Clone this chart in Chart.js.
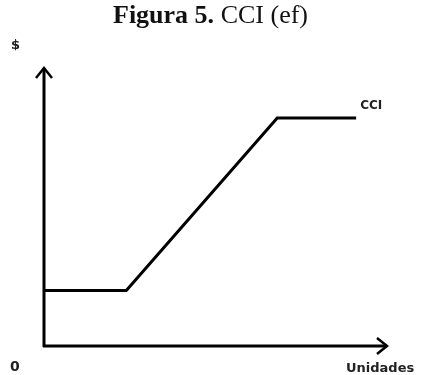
<!DOCTYPE html>
<html>
<head>
<meta charset="utf-8">
<script src="https://cdn.jsdelivr.net/npm/chart.js@4.4.0/dist/chart.umd.min.js"></script>
<style>
  html, body { margin: 0; padding: 0; background: #fff; }
  #wrap { position: relative; width: 421px; height: 375px; }
  #title {
    position: absolute; left: 0; top: 0px; width: 421px; text-align: center;
    font-family: "Liberation Serif", serif; font-size: 26px; line-height: 30px; color: #111;
  }
  #title b { font-weight: bold; }
</style>
</head>
<body>
<div id="wrap">
  <canvas id="cciChart" width="421" height="375"></canvas>
  <div id="title"><b>Figura 5.</b> CCI (ef)</div>
</div>
<script>
// Units (x) and cost (y) of the CCI curve, axis goes 0..100 both ways
const unitValues = [0, 24, 68, 91];
const costValues = [20, 20, 82, 82];
const seriesLabel = 'CCI';
const xAxisLabel = 'Unidades';
const yAxisLabel = '$';
const originLabel = '0';

// axes with open arrow heads + the text labels
const axesPlugin = {
    id: 'axesArrows',
    afterDatasetsDraw(chart) {
        const ctx = chart.ctx;
        const xs = chart.scales.x, ys = chart.scales.y;
        const x0 = xs.getPixelForValue(0), y0 = ys.getPixelForValue(0);
        const xEnd = xs.getPixelForValue(100), yTop = ys.getPixelForValue(100);

        ctx.save();
        ctx.strokeStyle = '#000';
        ctx.lineWidth = 3;
        ctx.lineCap = 'butt';
        ctx.beginPath();
        ctx.moveTo(x0, y0 + 1);
        ctx.lineTo(x0, yTop);
        ctx.moveTo(x0 - 1, y0);
        ctx.lineTo(xEnd, y0);
        ctx.stroke();

        // arrow heads
        ctx.lineWidth = 2.5;
        ctx.beginPath();
        ctx.moveTo(x0 - 8, yTop + 10);
        ctx.lineTo(x0, yTop);
        ctx.lineTo(x0 + 8, yTop + 10);
        ctx.moveTo(xEnd - 10, y0 - 8);
        ctx.lineTo(xEnd, y0);
        ctx.lineTo(xEnd - 10, y0 + 8);
        ctx.stroke();

        // labels
        ctx.fillStyle = '#222';
        ctx.textBaseline = 'middle';
        ctx.textAlign = 'left';
        ctx.font = 'bold 13px "DejaVu Sans", sans-serif';
        ctx.fillText(yAxisLabel, 11, 46);
        ctx.font = 'bold 14px "DejaVu Sans", sans-serif';
        ctx.fillText(originLabel, 10, 367);
        ctx.font = 'bold 13px "DejaVu Sans", sans-serif';
        ctx.fillText(xAxisLabel, 346, 369);

        const last = unitValues.length - 1;
        const lx = xs.getPixelForValue(unitValues[last]);
        const ly = ys.getPixelForValue(costValues[last]);
        ctx.font = 'bold 12px "DejaVu Sans", sans-serif';
        ctx.fillText(seriesLabel, lx + 4, ly - 12);
        ctx.restore();
    }
};

const ctx = document.getElementById('cciChart').getContext('2d');
const cciChart = new Chart(ctx, {
    type: 'line',
    data: {
        datasets: [{
            label: seriesLabel,
            data: unitValues.map((u, i) => ({ x: u, y: costValues[i] })),
            borderColor: '#000',
            borderWidth: 3,
            pointRadius: 0,
            tension: 0,
            fill: false
        }]
    },
    options: {
        responsive: false,
        animation: false,
        layout: { padding: { left: 44, top: 68, right: 34, bottom: 29 } },
        scales: {
            x: { type: 'linear', min: 0, max: 100, display: false },
            y: { min: 0, max: 100, display: false }
        },
        plugins: {
            legend: { display: false },
            tooltip: { enabled: false }
        }
    },
    plugins: [axesPlugin]
});
</script>
</body>
</html>
